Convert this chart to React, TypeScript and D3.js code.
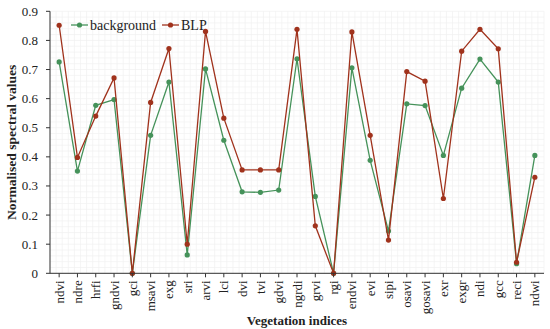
import React from "react";
import * as d3 from "d3";

const categories = ["ndvi","ndre","hrfi","gndvi","gci","msavi","exg","sri","arvi","lci","dvi","tvi","gdvi","ngrdi","grvi","rgi","endvi","evi","sipi","osavi","gosavi","exr","exgr","ndi","gcc","reci","ndwi"];
const background = [0.726,0.351,0.577,0.597,0,0.474,0.657,0.063,0.702,0.457,0.280,0.278,0.286,0.737,0.264,0,0.706,0.388,0.145,0.582,0.576,0.405,0.636,0.736,0.657,0.033,0.405];
const blp = [0.852,0.398,0.540,0.671,0,0.587,0.772,0.100,0.831,0.533,0.355,0.355,0.355,0.838,0.163,0,0.829,0.474,0.114,0.693,0.660,0.257,0.763,0.838,0.771,0.038,0.330];
const yTicks = [0,0.1,0.2,0.3,0.4,0.5,0.6,0.7,0.8,0.9];

const W = 550, H = 329;
const left = 50, right = 544, top = 11.3, bottom = 273.3;
const GREEN = "#45925a";
const RED = "#a0321c";
const FONT = "'Liberation Serif', 'Times New Roman', serif";

export default function App() {
  const x = d3.scalePoint<string>().domain(categories).range([left, right]).padding(0.5);
  const y = d3.scaleLinear().domain([0, 0.9]).range([bottom, top]);
  const line = d3.line<number>().x((_, i) => x(categories[i])!).y(d => y(d));
  const step = x.step();
  const vGrid: number[] = [];
  for (let gx = left; gx <= right + 0.1; gx += step / 3) vGrid.push(gx);
  const hGrid = d3.range(0, 0.9001, 0.02);
  const series = [
    { name: "background", data: background, color: GREEN },
    { name: "BLP", data: blp, color: RED },
  ];
  return (
    <svg width={W} height={H} style={{ position: "absolute", left: 0, top: 0 }} fontFamily={FONT}>
      <rect width={W} height={H} fill="#fff" />
      <g stroke="#f1f1f1" strokeWidth={0.7}>
        {vGrid.map((g, i) => <line key={"v" + i} x1={g} x2={g} y1={top} y2={bottom} />)}
        {hGrid.map((g, i) => <line key={"h" + i} x1={left} x2={right} y1={y(g)} y2={y(g)} />)}
      </g>
      {series.map(s => (
        <g key={s.name}>
          <path d={line(s.data)!} fill="none" stroke={s.color} strokeWidth={1.3} />
          {s.data.map((v, i) => <circle key={i} cx={x(categories[i])} cy={y(v)} r={2.6} fill={s.color} />)}
        </g>
      ))}
      <g stroke="#333" strokeWidth={1}>
        <line x1={left} x2={left} y1={top} y2={bottom} />
        <line x1={left} x2={right} y1={bottom} y2={bottom} />
        {yTicks.map(t => <line key={t} x1={left - 4} x2={left} y1={y(t)} y2={y(t)} />)}
        {categories.map(c => <line key={c} x1={x(c)} x2={x(c)} y1={bottom} y2={bottom + 4} />)}
      </g>
      <g fontSize={13} fill="#222" textAnchor="end">
        {yTicks.map(t => <text key={t} x={left - 12} y={y(t) + 4.5}>{t === 0 ? "0" : d3.format(".1f")(t)}</text>)}
      </g>
      <g fontSize={13} fill="#222" textAnchor="end">
        {categories.map(c => (
          <text key={c} transform={`translate(${x(c)! + 4.5},${bottom + 7}) rotate(-90)`}>{c}</text>
        ))}
      </g>
      <text x={(left + right) / 2} y={325} textAnchor="middle" fontWeight="bold" fontSize={13} fill="#222">Vegetation indices</text>
      <text transform={`translate(16,${(top + bottom) / 2}) rotate(-90)`} textAnchor="middle" fontWeight="bold" fontSize={13.5} fill="#222">Normalised spectral values</text>
      <g fontSize={14} fill="#222">
        <line x1={71} x2={88} y1={25} y2={25} stroke={GREEN} strokeWidth={1.3} />
        <circle cx={79.5} cy={25} r={2.6} fill={GREEN} />
        <text x={90} y={29.5}>background</text>
        <line x1={162} x2={179} y1={25} y2={25} stroke={RED} strokeWidth={1.3} />
        <circle cx={170.5} cy={25} r={2.6} fill={RED} />
        <text x={181} y={29.5}>BLP</text>
      </g>
    </svg>
  );
}
